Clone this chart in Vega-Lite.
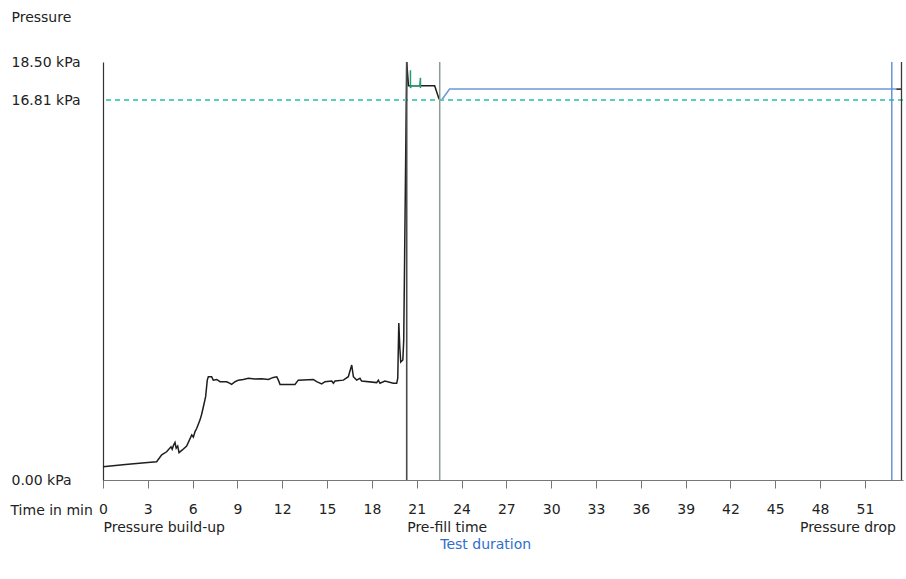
{
  "$schema": "https://vega.github.io/schema/vega-lite/v6.json",
  "width": 800,
  "height": 418,
  "autosize": {"type": "none"},
  "padding": {"left": 103, "top": 62, "right": 3, "bottom": 99},
  "background": "white",
  "config": {
    "view": {"stroke": null},
    "font": "DejaVu Sans",
    "axis": {
      "labelFont": "DejaVu Sans",
      "titleFont": "DejaVu Sans",
      "labelFontSize": 14,
      "titleFontSize": 14,
      "titleFontWeight": "normal",
      "labelColor": "#222",
      "titleColor": "#222",
      "grid": false
    }
  },
  "datasets": {
    "trace": [
      {"i": 1, "s": "Pressure", "t": 0, "p": 0.59},
      {"i": 2, "s": "Pressure", "t": 1.5, "p": 0.69},
      {"i": 3, "s": "Pressure", "t": 3.0, "p": 0.77},
      {"i": 4, "s": "Pressure", "t": 3.59, "p": 0.81},
      {"i": 5, "s": "Pressure", "t": 3.93, "p": 1.11},
      {"i": 6, "s": "Pressure", "t": 4.26, "p": 1.25},
      {"i": 7, "s": "Pressure", "t": 4.55, "p": 1.47},
      {"i": 8, "s": "Pressure", "t": 4.63, "p": 1.36},
      {"i": 9, "s": "Pressure", "t": 4.71, "p": 1.52},
      {"i": 10, "s": "Pressure", "t": 4.82, "p": 1.66},
      {"i": 11, "s": "Pressure", "t": 4.9, "p": 1.41},
      {"i": 12, "s": "Pressure", "t": 5.0, "p": 1.5},
      {"i": 13, "s": "Pressure", "t": 5.09, "p": 1.21},
      {"i": 14, "s": "Pressure", "t": 5.31, "p": 1.33},
      {"i": 15, "s": "Pressure", "t": 5.6, "p": 1.5},
      {"i": 16, "s": "Pressure", "t": 5.94, "p": 1.99},
      {"i": 17, "s": "Pressure", "t": 6.05, "p": 1.9},
      {"i": 18, "s": "Pressure", "t": 6.16, "p": 2.14},
      {"i": 19, "s": "Pressure", "t": 6.27, "p": 2.28},
      {"i": 20, "s": "Pressure", "t": 6.49, "p": 2.65},
      {"i": 21, "s": "Pressure", "t": 6.6, "p": 2.9},
      {"i": 22, "s": "Pressure", "t": 6.72, "p": 3.24},
      {"i": 23, "s": "Pressure", "t": 6.87, "p": 3.69},
      {"i": 24, "s": "Pressure", "t": 6.98, "p": 4.42},
      {"i": 25, "s": "Pressure", "t": 7.05, "p": 4.57},
      {"i": 26, "s": "Pressure", "t": 7.27, "p": 4.57},
      {"i": 27, "s": "Pressure", "t": 7.38, "p": 4.42},
      {"i": 28, "s": "Pressure", "t": 7.61, "p": 4.45},
      {"i": 29, "s": "Pressure", "t": 7.83, "p": 4.35},
      {"i": 30, "s": "Pressure", "t": 8.28, "p": 4.35},
      {"i": 31, "s": "Pressure", "t": 8.5, "p": 4.28},
      {"i": 32, "s": "Pressure", "t": 8.61, "p": 4.23},
      {"i": 33, "s": "Pressure", "t": 8.84, "p": 4.35},
      {"i": 34, "s": "Pressure", "t": 9.06, "p": 4.42},
      {"i": 35, "s": "Pressure", "t": 9.39, "p": 4.45},
      {"i": 36, "s": "Pressure", "t": 9.73, "p": 4.5},
      {"i": 37, "s": "Pressure", "t": 10.17, "p": 4.47},
      {"i": 38, "s": "Pressure", "t": 10.62, "p": 4.48},
      {"i": 39, "s": "Pressure", "t": 11.07, "p": 4.45},
      {"i": 40, "s": "Pressure", "t": 11.4, "p": 4.54},
      {"i": 41, "s": "Pressure", "t": 11.63, "p": 4.57},
      {"i": 42, "s": "Pressure", "t": 11.74, "p": 4.42},
      {"i": 43, "s": "Pressure", "t": 11.85, "p": 4.23},
      {"i": 44, "s": "Pressure", "t": 12.85, "p": 4.23},
      {"i": 45, "s": "Pressure", "t": 13.07, "p": 4.42},
      {"i": 46, "s": "Pressure", "t": 14.08, "p": 4.45},
      {"i": 47, "s": "Pressure", "t": 14.3, "p": 4.35},
      {"i": 48, "s": "Pressure", "t": 14.64, "p": 4.25},
      {"i": 49, "s": "Pressure", "t": 14.86, "p": 4.35},
      {"i": 50, "s": "Pressure", "t": 15.31, "p": 4.38},
      {"i": 51, "s": "Pressure", "t": 15.42, "p": 4.28},
      {"i": 52, "s": "Pressure", "t": 15.53, "p": 4.38},
      {"i": 53, "s": "Pressure", "t": 16.09, "p": 4.42},
      {"i": 54, "s": "Pressure", "t": 16.42, "p": 4.57},
      {"i": 55, "s": "Pressure", "t": 16.65, "p": 5.09},
      {"i": 56, "s": "Pressure", "t": 16.76, "p": 4.57},
      {"i": 57, "s": "Pressure", "t": 16.98, "p": 4.42},
      {"i": 58, "s": "Pressure", "t": 17.2, "p": 4.5},
      {"i": 59, "s": "Pressure", "t": 17.31, "p": 4.38},
      {"i": 60, "s": "Pressure", "t": 18.32, "p": 4.31},
      {"i": 61, "s": "Pressure", "t": 18.43, "p": 4.42},
      {"i": 62, "s": "Pressure", "t": 18.54, "p": 4.28},
      {"i": 63, "s": "Pressure", "t": 18.87, "p": 4.38},
      {"i": 64, "s": "Pressure", "t": 19.43, "p": 4.28},
      {"i": 65, "s": "Pressure", "t": 19.66, "p": 4.28},
      {"i": 66, "s": "Pressure", "t": 19.73, "p": 4.51},
      {"i": 67, "s": "Pressure", "t": 19.8, "p": 6.95},
      {"i": 68, "s": "Pressure", "t": 19.87, "p": 5.84},
      {"i": 69, "s": "Pressure", "t": 19.93, "p": 5.22},
      {"i": 70, "s": "Pressure", "t": 20.07, "p": 5.31},
      {"i": 71, "s": "Pressure", "t": 20.13, "p": 6.19},
      {"i": 72, "s": "Pressure", "t": 20.33, "p": 18.5},
      {"i": 73, "s": "Pressure", "t": 20.45, "p": 17.45},
      {"i": 74, "s": "Pressure", "t": 22.2, "p": 17.45},
      {"i": 75, "s": "Pressure", "t": 22.5, "p": 16.85},
      {"i": 76, "s": "Pre-fill", "t": 20.58, "p": 18.14},
      {"i": 77, "s": "Pre-fill", "t": 20.58, "p": 17.35},
      {"i": 78, "s": "Pre-fill", "t": 20.65, "p": 17.45},
      {"i": 79, "s": "Pre-fill", "t": 21.2, "p": 17.45},
      {"i": 80, "s": "Pre-fill", "t": 21.25, "p": 17.8},
      {"i": 81, "s": "Pre-fill", "t": 21.25, "p": 17.35},
      {"i": 82, "s": "Test", "t": 22.54, "p": 16.81},
      {"i": 83, "s": "Test", "t": 22.7, "p": 16.85},
      {"i": 84, "s": "Test", "t": 23.2, "p": 17.3},
      {"i": 85, "s": "Test", "t": 53.1, "p": 17.3},
      {"i": 86, "s": "Drop", "t": 53.1, "p": 17.3},
      {"i": 87, "s": "Drop", "t": 53.45, "p": 17.3}
    ],
    "events": [
      {"t": 0, "name": "Pressure build-up"},
      {"t": 20.33, "name": "Pre-fill time"},
      {"t": 22.54, "name": "Test duration"},
      {"t": 52.8, "name": "Test end"},
      {"t": 53.45, "name": "Pressure drop"}
    ]
  },
  "resolve": {
    "axis": {"x": "independent"},
    "scale": {"color": "independent", "strokeWidth": "independent"}
  },
  "layer": [
    {
      "data": {"name": "trace"},
      "mark": {"type": "line", "strokeWidth": 1.5, "interpolate": "linear"},
      "encoding": {
        "x": {
          "field": "t",
          "type": "quantitative",
          "scale": {"domain": [0, 53.55], "nice": false, "zero": false},
          "axis": {
            "orient": "bottom",
            "values": [0, 3, 6, 9, 12, 15, 18, 21, 24, 27, 30, 33, 36, 39, 42, 45, 48, 51],
            "domainColor": "#777",
            "tickColor": "#777",
            "tickSize": 8,
            "labelPadding": 14,
            "labelBaseline": "top",
            "labelOverlap": false,
            "labelFlush": false,
            "title": "Time in min",
            "titleX": -93,
            "titleY": 30,
            "titleAlign": "left",
            "titleBaseline": "middle"
          }
        },
        "y": {
          "field": "p",
          "type": "quantitative",
          "scale": {"domain": [0, 18.5], "nice": false},
          "axis": {
            "values": [0, 16.81, 18.5],
            "labelExpr": "format(datum.value, '.2f') + ' kPa'",
            "labelAlign": "left",
            "labelPadding": 92,
            "ticks": false,
            "tickSize": 0,
            "domainColor": "#333",
            "domainWidth": 1.2,
            "title": "Pressure",
            "titleAngle": 0,
            "titleX": -92,
            "titleY": -45,
            "titleAlign": "left",
            "titleBaseline": "middle"
          }
        },
        "detail": {"field": "s"},
        "order": {"field": "i"},
        "color": {
          "field": "s",
          "type": "nominal",
          "scale": {
            "domain": ["Pressure", "Pre-fill", "Test", "Drop"],
            "range": ["#1e1e1e", "#1f9c78", "#6b98de", "#1e1e1e"]
          },
          "legend": null
        }
      }
    },
    {
      "data": {"name": "trace"},
      "mark": {"type": "rule", "color": "#5ccfb5", "strokeDash": [5, 4], "strokeWidth": 1.2},
      "encoding": {
        "y": {"datum": 16.81, "type": "quantitative"}
      }
    },
    {
      "data": {"name": "events"},
      "transform": [{"filter": "datum.name != 'Pressure build-up'"}],
      "mark": {"type": "rule"},
      "encoding": {
        "x": {
          "field": "t",
          "type": "quantitative",
          "scale": {"domain": [0, 53.55], "nice": false, "zero": false},
          "axis": {
            "orient": "bottom",
            "values": [0, 20.33, 22.54, 53.45],
            "labelExpr": "datum.value == 0 ? 'Pressure build-up' : datum.value == 20.33 ? 'Pre-fill time' : datum.value == 22.54 ? 'Test duration' : 'Pressure drop'",
            "domain": false,
            "ticks": false,
            "tickSize": 0,
            "title": null,
            "labelOverlap": false,
            "labelBound": false,
            "labelFlush": false,
            "labelBaseline": "top",
            "labelAlign": {"condition": {"test": "datum.value > 50", "value": "right"}, "value": "left"},
            "labelOffset": {"condition": {"test": "datum.value > 50", "value": -6}, "value": 0},
            "labelPadding": {"condition": {"test": "datum.value == 22.54", "value": 57}, "value": 40},
            "labelColor": {"condition": {"test": "datum.value == 22.54", "value": "#2f6fcc"}, "value": "#222"}
          }
        },
        "color": {
          "field": "name",
          "type": "nominal",
          "scale": {
            "domain": ["Pre-fill time", "Test duration", "Test end", "Pressure drop"],
            "range": ["#4a4a4a", "#8d9c95", "#5a8ed6", "#3a3a3a"]
          },
          "legend": null
        },
        "strokeWidth": {
          "field": "name",
          "type": "nominal",
          "scale": {
            "domain": ["Pre-fill time", "Test duration", "Test end", "Pressure drop"],
            "range": [1.6, 1.3, 1.3, 3]
          },
          "legend": null
        }
      }
    }
  ]
}
